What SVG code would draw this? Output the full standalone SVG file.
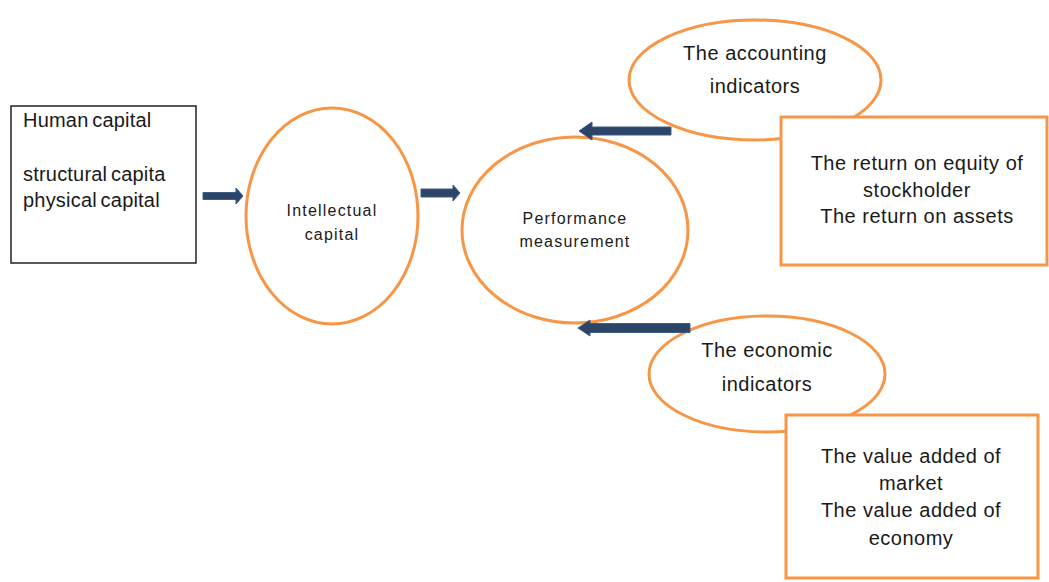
<svg xmlns="http://www.w3.org/2000/svg" width="1049" height="582" viewBox="0 0 1049 582">
<style>
.t{font-family:"Liberation Sans",Arial,sans-serif;fill:#1a1a1a}
.big{font-size:20px;letter-spacing:0.5px}
.lb{font-size:20px;letter-spacing:0.2px;word-spacing:-2px}
.small{font-size:16px;letter-spacing:1.2px}
.ell{fill:#fff;stroke:#F79646;stroke-width:3}
.obox{fill:#fff;stroke:#F79646;stroke-width:3}
.arr{fill:#2B4468;stroke:#3E5C84;stroke-width:1}
</style>
<rect width="1049" height="582" fill="#fff"/>
<g id="left-box">
<rect x="11" y="106" width="185" height="157" fill="#fff" stroke="#222" stroke-width="1.5"/>
<text class="t lb" x="23" y="127">Human capital</text>
<text class="t lb" x="23" y="181">structural capita</text>
<text class="t lb" x="23" y="207">physical capital</text>
</g>
<g id="intellectual-capital">
<ellipse class="ell" cx="332" cy="216" rx="86" ry="108"/>
<text class="t small" x="332" y="216" text-anchor="middle">Intellectual</text>
<text class="t small" x="332" y="240" text-anchor="middle">capital</text>
</g>
<g id="performance-measurement">
<ellipse class="ell" cx="575" cy="230" rx="113" ry="93"/>
<text class="t small" x="575" y="224" text-anchor="middle">Performance</text>
<text class="t small" x="575" y="247" text-anchor="middle">measurement</text>
</g>
<g id="accounting-indicators">
<ellipse class="ell" cx="755" cy="80" rx="126" ry="60"/>
<text class="t big" x="755" y="60" text-anchor="middle">The accounting</text>
<text class="t big" x="755" y="93" text-anchor="middle">indicators</text>
</g>
<g id="accounting-box">
<rect class="obox" x="781" y="117" width="266" height="148"/>
<text class="t big" x="917" y="170" text-anchor="middle">The return on equity of</text>
<text class="t big" x="917" y="197" text-anchor="middle">stockholder</text>
<text class="t big" x="917" y="223" text-anchor="middle">The return on assets</text>
</g>
<g id="economic-indicators">
<ellipse class="ell" cx="767" cy="374" rx="118" ry="58"/>
<text class="t big" x="767" y="357" text-anchor="middle">The economic</text>
<text class="t big" x="767" y="391" text-anchor="middle">indicators</text>
</g>
<g id="economic-box">
<rect class="obox" x="786" y="415" width="252" height="163"/>
<text class="t big" x="911" y="463" text-anchor="middle">The value added of</text>
<text class="t big" x="911" y="490" text-anchor="middle">market</text>
<text class="t big" x="911" y="517" text-anchor="middle">The value added of</text>
<text class="t big" x="911" y="545" text-anchor="middle">economy</text>
</g>
<g id="connectors">
<polygon class="arr" points="203,192.5 236,192.5 236,188 243,196 236,204 236,199.5 203,199.5"/>
<polygon class="arr" points="421,189 453,189 453,185 460,193 453,201 453,197 421,197"/>
<polygon class="arr" points="671,127 592,127 592,122 579,131 592,140 592,135 671,135"/>
<polygon class="arr" points="690,323.5 590,323.5 590,320 578,328 590,336 590,332.5 690,332.5"/>
</g>
</svg>
